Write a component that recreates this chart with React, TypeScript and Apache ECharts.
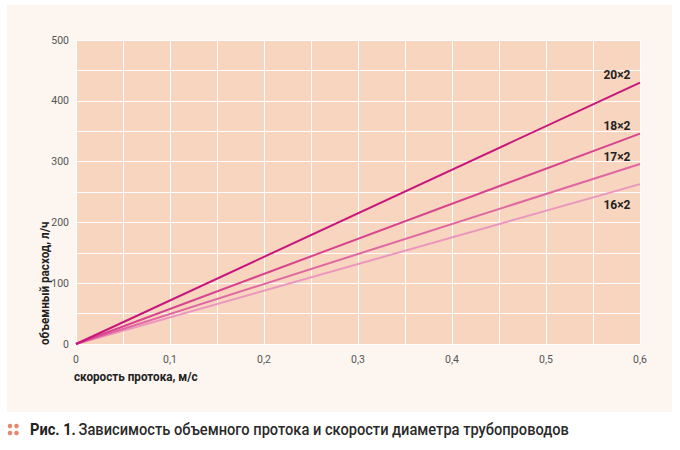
import React, { useEffect, useRef } from "react";
import * as echarts from "echarts";

const seriesNames = ["20×2", "18×2", "17×2", "16×2"];
const speedPoints = [0, 0.6];
const flow20 = [0, 430];
const flow18 = [0, 346];
const flow17 = [0, 296];
const flow16 = [0, 263];
const lineColors = ["#c8157c", "#d8458f", "#e067a2", "#eb96be"];
const labelOffsets: [number, number][] = [[-23, -8], [-23, -8], [-23, -7], [-23, 21]];

const FONT = "Roboto, 'Liberation Sans', sans-serif";

export default function App() {
  const ref = useRef<HTMLDivElement>(null);
  useEffect(() => {
    if (!ref.current) return;
    const chart = echarts.init(ref.current, undefined, { renderer: "svg" });
    const allFlows = [flow20, flow18, flow17, flow16];
    const fmtX = (v: number) => {
      const k = Math.round(v * 100);
      if (k % 10 !== 0) return "";
      return k === 0 ? "0" : (k / 100).toFixed(1).replace(".", ",");
    };
    const fmtY = (v: number) => (Math.round(v) % 100 === 0 ? String(v) : "");
    const dots = [
      [10, 426],
      [16.5, 426],
      [10, 433],
      [16.5, 433],
    ].map(([cx, cy]) => ({
      type: "circle",
      shape: { cx, cy, r: 2.3 },
      style: { fill: "#e38a6e" },
    }));
    chart.setOption({
      animation: false,
      backgroundColor: "#ffffff",
      textStyle: { fontFamily: FONT },
      grid: {
        left: 76,
        right: 40,
        top: 40,
        bottom: 106,
        show: true,
        backgroundColor: "#f8d5be",
        borderWidth: 0,
      },
      xAxis: {
        type: "value",
        min: 0,
        max: 0.6,
        interval: 0.05,
        axisLine: { show: false },
        axisTick: { show: false },
        splitLine: { show: true, lineStyle: { color: "#ffffff", width: 1 } },
        axisLabel: { formatter: fmtX, color: "#555", fontSize: 10.5, margin: 10, fontFamily: FONT },
      },
      yAxis: {
        type: "value",
        min: 0,
        max: 500,
        interval: 50,
        axisLine: { show: false },
        axisTick: { show: false },
        splitLine: { show: true, lineStyle: { color: "#ffffff", width: 1 } },
        axisLabel: { formatter: fmtY, color: "#555", fontSize: 10.5, margin: 7, fontFamily: FONT },
      },
      graphic: [
        {
          type: "rect",
          z: -10,
          silent: true,
          shape: { x: 7, y: 5, width: 665, height: 407 },
          style: { fill: "#fcf5f0" },
        },
        {
          type: "text",
          x: 45,
          y: 345,
          rotation: Math.PI / 2,
          scaleX: 0.9,
          style: {
            text: "объемный расход, л/ч",
            align: "left",
            verticalAlign: "middle",
            fontSize: 13,
            fontWeight: "bold",
            fill: "#222",
            fontFamily: FONT,
          },
        },
        {
          type: "text",
          x: 74,
          y: 377,
          scaleX: 0.9,
          style: {
            text: "скорость протока, м/с",
            align: "left",
            verticalAlign: "middle",
            fontSize: 13,
            fontWeight: "bold",
            fill: "#222",
            fontFamily: FONT,
          },
        },
        ...dots,
        {
          type: "text",
          x: 30,
          y: 430,
          scaleX: 0.915,
          style: {
            text: "{b|Рис. 1.} {r|Зависимость объемного протока и скорости диаметра трубопроводов}",
            align: "left",
            verticalAlign: "middle",
            fontFamily: FONT,
            rich: {
              b: { fontSize: 16, fontWeight: "bold", fill: "#222", fontFamily: FONT },
              r: { fontSize: 16, fontWeight: 500, fill: "#2a2a2a", fontFamily: FONT },
            },
          },
        },
      ],
      series: seriesNames.map((name, i) => ({
        name,
        type: "line",
        data: speedPoints.map((x, j) => [x, allFlows[i][j]]),
        symbol: "none",
        lineStyle: { color: lineColors[i], width: 2 },
        itemStyle: { color: lineColors[i] },
        z: 10 - i,
        endLabel: {
          show: true,
          formatter: "{a}",
          align: "center",
          verticalAlign: "middle",
          distance: 0,
          offset: labelOffsets[i],
          fontSize: 12,
          fontWeight: "bold",
          color: "#222",
          fontFamily: FONT,
        },
      })),
    });
    return () => chart.dispose();
  }, []);
  return (
    <div
      ref={ref}
      style={{ position: "absolute", left: 0, top: 0, width: 680, height: 450 }}
    />
  );
}
